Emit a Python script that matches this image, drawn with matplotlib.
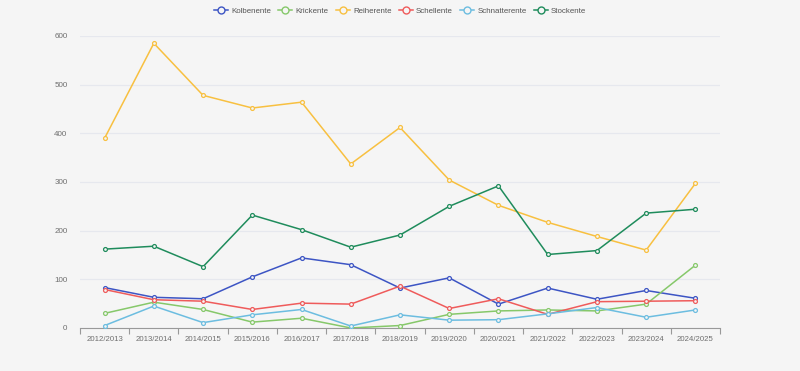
import numpy as np
import matplotlib.pyplot as plt
from matplotlib.lines import Line2D

plt.rcParams['font.family'] = ['Liberation Sans', 'DejaVu Sans']

seasons = ['2012/2013', '2013/2014', '2014/2015', '2015/2016', '2016/2017',
           '2017/2018', '2018/2019', '2019/2020', '2020/2021', '2021/2022',
           '2022/2023', '2023/2024', '2024/2025']

kolbenente = [83, 63, 60, 105, 144, 130, 82, 103, 49, 82, 59, 77, 61]
krickente = [30, 53, 38, 12, 20, 0, 5, 28, 35, 37, 35, 49, 129]
reiherente = [390, 585, 478, 452, 464, 337, 412, 304, 252, 217, 188, 160, 297]
schellente = [79, 58, 55, 38, 51, 49, 86, 40, 60, 28, 54, 55, 56]
schnatterente = [5, 45, 11, 27, 38, 4, 27, 16, 17, 29, 42, 22, 37]
stockente = [162, 168, 126, 232, 202, 166, 191, 250, 292, 151, 159, 236, 244]

names = ['Kolbenente', 'Krickente', 'Reiherente', 'Schellente', 'Schnatterente', 'Stockente']
series = [kolbenente, krickente, reiherente, schellente, schnatterente, stockente]
colors = ['#3d55c4', '#86c86a', '#f8c040', '#ef5b5b', '#6cbde0', '#1f8c5c']

bg = '#f5f5f5'
fig = plt.figure(figsize=(8, 3.71), dpi=100, facecolor=bg)
ax = fig.add_axes([0.1, 0.116, 0.8, 0.787], facecolor=bg)

x = np.arange(len(seasons))
for name, vals, c in zip(names, series, colors):
    ax.plot(x, vals, color=c, lw=1.1, marker='o', ms=2.8, mfc=bg, mec=c, mew=0.9,
            label=name, zorder=3)

ax.set_xlim(-0.5, len(seasons) - 0.5)
ax.set_ylim(0, 600)
ax.set_yticks([0, 100, 200, 300, 400, 500, 600])
ax.yaxis.grid(True, color='#e6e8ee', lw=0.9)
ax.set_axisbelow(True)

ax.set_xticks(x)
ax.set_xticklabels(seasons)
ax.set_xticks(np.arange(-0.5, len(seasons)), minor=True)
ax.tick_params(axis='x', which='major', length=0, labelsize=5.6, labelcolor='#6e6e6e', pad=6)
ax.tick_params(axis='x', which='minor', length=4, color='#999999', width=0.8)
ax.tick_params(axis='y', length=0, labelsize=5.8, labelcolor='#6e6e6e', pad=9)

for s in ['top', 'right', 'left']:
    ax.spines[s].set_visible(False)
ax.spines['bottom'].set_color('#999999')
ax.spines['bottom'].set_linewidth(0.8)

handles = [Line2D([0], [0], color=c, lw=1.1, marker='o', ms=5, mfc=bg, mec=c, mew=1.0)
           for c in colors]
fig.legend(handles, names, loc='upper center', bbox_to_anchor=(0.5, 1.0), ncol=6,
           frameon=False, fontsize=5.7, labelcolor='#555555', handlelength=1.8,
           handletextpad=0.4, columnspacing=0.9)

fig.savefig('out.png', dpi=100, facecolor=bg)
